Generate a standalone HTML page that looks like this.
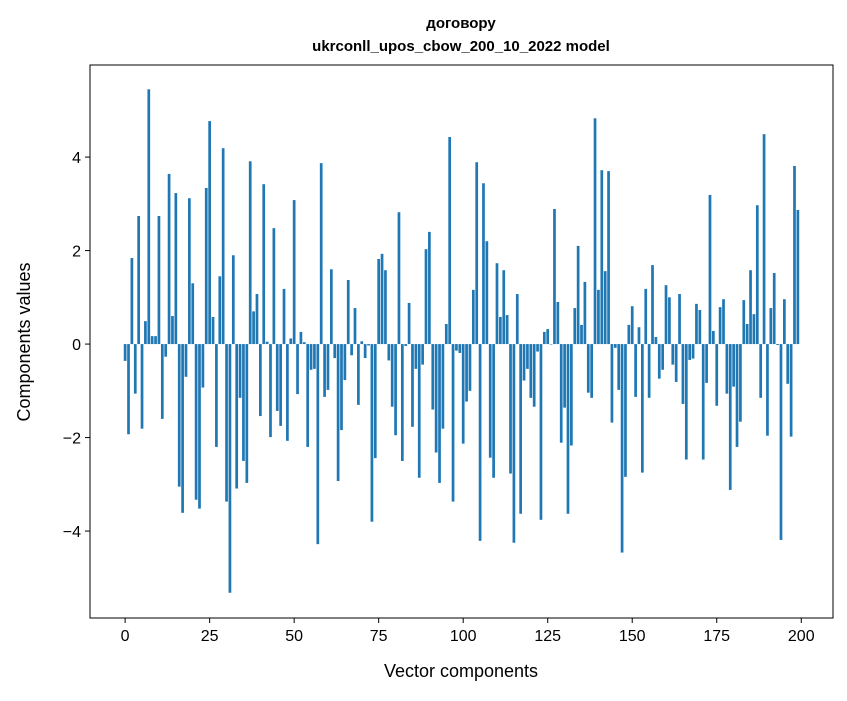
<!DOCTYPE html>
<html><head><meta charset="utf-8"><style>
body{margin:0;background:#fff;}
svg text{font-family:"Liberation Sans","DejaVu Sans",sans-serif;fill:#000;}
</style></head><body>
<svg id="chart" width="847" height="696">
<text x="461" y="28" text-anchor="middle" font-size="15" font-weight="bold">договору</text>
<text x="461" y="51" text-anchor="middle" font-size="15" font-weight="bold">ukrconll_upos_cbow_200_10_2022 model</text>
<g id="bars"></g>
<g id="xt"></g>
<g id="yt"></g>
<rect x="90" y="65" width="743" height="553" fill="none" stroke="#000" stroke-width="1"/>
<text x="461" y="677" text-anchor="middle" font-size="18">Vector components</text>
<text transform="translate(30,342) rotate(-90)" text-anchor="middle" font-size="18">Components values</text>
</svg>
<script>
const values=[-0.36,-1.93,1.84,-1.06,2.74,-1.81,0.49,5.45,0.17,0.17,2.74,-1.6,-0.27,3.64,0.6,3.23,-3.05,-3.61,-0.7,3.12,1.3,-3.33,-3.52,-0.93,3.34,4.77,0.58,-2.2,1.45,4.19,-3.37,-5.32,1.9,-3.09,-1.15,-2.5,-2.97,3.91,0.7,1.07,
-1.54,3.42,0.05,-1.99,2.48,-1.43,-1.75,1.18,-2.07,0.12,3.08,-1.07,0.26,0.04,-2.2,-0.55,-0.53,-4.28,3.87,-1.13,-0.98,1.6,-0.3,-2.93,-1.84,-0.77,1.37,-0.24,0.77,-1.3,0.06,-0.3,-0.03,-3.8,-2.44,1.82,1.93,1.58,-0.35,-1.34,
-1.95,2.82,-2.5,-0.04,0.88,-1.77,-0.53,-2.86,-0.44,2.03,2.4,-1.4,-2.32,-2.97,-1.81,0.43,4.43,-3.37,-0.14,-0.19,-2.13,-1.23,-1.0,1.16,3.89,-4.21,3.44,2.2,-2.43,-2.86,1.73,0.58,1.58,0.62,-2.77,-4.25,1.07,-3.63,-0.78,-0.53,
-1.15,-1.34,-0.16,-3.76,0.26,0.32,-0.01,2.89,0.9,-2.11,-1.36,-3.63,-2.17,0.77,2.1,0.41,1.33,-1.04,-1.15,4.83,1.16,3.72,1.56,3.7,-1.68,-0.08,-0.98,-4.46,-2.84,0.41,0.81,-1.13,0.36,-2.75,1.18,-1.15,1.69,0.15,-0.74,-0.55,
1.26,1.0,-0.44,-0.81,1.07,-1.28,-2.47,-0.34,-0.31,0.86,0.73,-2.47,-0.83,3.19,0.28,-1.32,0.79,0.96,-1.06,-3.12,-0.91,-2.2,-1.66,0.94,0.43,1.58,0.64,2.97,-1.15,4.49,-1.96,0.77,1.52,-0.02,-4.19,0.96,-0.85,-1.98,3.81,2.87];
const xTicks=[0,25,50,75,100,125,150,175,200];
const yTicks=[-4,-2,0,2,4];
const NS='http://www.w3.org/2000/svg';
const X0=90,X1=833,Y0=65,Y1=618,xmin=-10.39,xmax=209.39,ymin=-5.86,ymax=5.97;
function sx(v){return X0+(v-xmin)/(xmax-xmin)*(X1-X0);}
function sy(v){return Y1-(v-ymin)/(ymax-ymin)*(Y1-Y0);}
function mk(t,a,p){const e=document.createElementNS(NS,t);for(const k in a)e.setAttribute(k,a[k]);p.appendChild(e);return e;}
const bars=document.getElementById('bars');
values.forEach((v,i)=>{
  const x=sx(i-0.4),w=sx(i+0.4)-x,y=Math.min(sy(v),sy(0)),h=Math.abs(sy(v)-sy(0));
  const r=mk('rect',{x:x,y:y,width:w,height:Math.max(h,0.3),fill:'#1f77b4'},bars);
  
  
});
const xt=document.getElementById('xt');
xTicks.forEach(t=>{
  const x=sx(t);
  const l=mk('line',{x1:x,x2:x,y1:Y1,y2:Y1+5,stroke:'#000'},xt);
  
  
  const tx=mk('text',{x:x,y:Y1+23,'text-anchor':'middle','font-size':'16'},xt);
  tx.textContent=t;
  
  
});
const yt=document.getElementById('yt');
yTicks.forEach(t=>{
  const y=sy(t);
  const l=mk('line',{x1:X0-5,x2:X0,y1:y,y2:y,stroke:'#000'},yt);
  
  
  const tx=mk('text',{x:X0-9,y:y+6,'text-anchor':'end','font-size':'16'},yt);
  tx.textContent=(t<0?'\u2212'+(-t):t);
  
  
});
</script>
</body></html>
